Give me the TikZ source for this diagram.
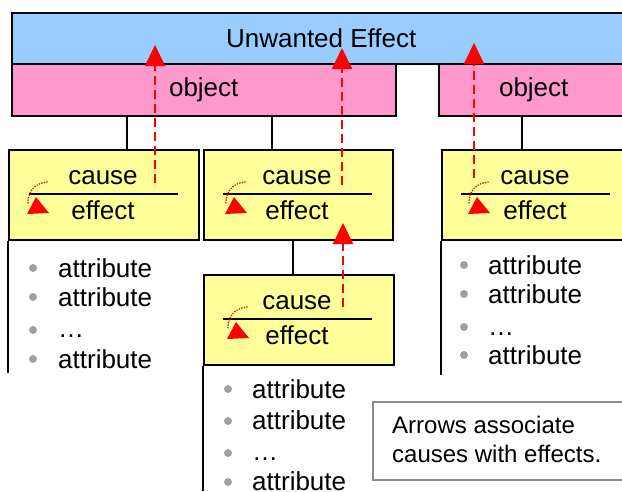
\documentclass[tikz,border=0pt]{standalone}
\usepackage{fontspec}
\setmainfont{Liberation Sans}
\usetikzlibrary{arrows.meta}
\definecolor{ueblue}{HTML}{99CCFF}
\definecolor{objpink}{HTML}{FF99CC}
\definecolor{cyellow}{HTML}{FFFF99}
\definecolor{bulgray}{HTML}{A0A0A0}
\definecolor{notegray}{HTML}{8C8C8C}
\begin{document}
\begin{tikzpicture}[x=1pt,y=-1pt,
  box/.style={draw=black, line width=1.5pt, inner sep=0pt, anchor=north west,
    font=\fontsize{26}{30}\selectfont},
  uebox/.style={box, fill=ueblue},
  objbox/.style={box, fill=objpink},
  cbox/.style={box, fill=cyellow, minimum width=190pt, minimum height=90pt},
  txt/.style={inner sep=0pt, anchor=base, font=\fontsize{26}{30}\selectfont},
  attr/.style={inner sep=0pt, anchor=base west, font=\fontsize{26}{30}\selectfont},
  conn/.style={draw=black, line width=1.5pt},
  divline/.style={draw=black, line width=2pt},
  redarrow/.style={draw=red, line width=2pt, dash pattern=on 9pt off 5pt,
    -{Triangle[width=20pt,length=21pt]}},
  bul/.style={fill=bulgray},
  cmark/.pic={
    \draw[red, line width=1.8pt, line cap=round, dash pattern=on 0pt off 2.6pt]
      (39,33) .. controls (28,34) and (20,41) .. (20,54);
    \fill[red] (28,48) -- (19,65) -- (41,64) -- cycle;
  }]
\useasboundingbox (0,0) rectangle (622,491);
\clip (0,0) rectangle (622,491);

% top boxes
\node[uebox, minimum width=619pt, minimum height=51pt] (ue) at (11,12) {Unwanted Effect};
\node[objbox, minimum width=384pt, minimum height=52pt] (o1) at (11,63) {\raisebox{-2pt}{object}};
\node[objbox, minimum width=190pt, minimum height=52pt] (o2) at (438,63) {\raisebox{-2pt}{object}};

% cause/effect boxes
\node[cbox] (b1) at (8,149) {};
\node[cbox, minimum width=189pt] (b2) at (203,149) {};
\node[cbox] (b3) at (441,149) {};
\node[cbox] (b4) at (203,274) {};

% connectors
\draw[conn] (o1.south -| 127,0) -- (b1.north -| 127,0);
\draw[conn] (o1.south -| 272,0) -- (b2.north -| 272,0);
\draw[conn] (o2.south -| 522,0) -- (b3.north -| 522,0);
\draw[conn] (b2.south -| 293,0) -- (b4.north -| 293,0);

% texts and dividers
\node[txt] (c1) at (103,184) {cause};
\node[txt] (e1) at (103,219) {effect};
\draw[divline] (29,194) -- (178,194);
\node[txt] (c2) at (297,184) {cause};
\node[txt] (e2) at (297,219) {effect};
\draw[divline] (223,194) -- (372,194);
\node[txt] (c3) at (535,184) {cause};
\node[txt] (e3) at (535,219) {effect};
\draw[divline] (461,194) -- (610,194);
\node[txt] (c4) at (297,309) {cause};
\node[txt] (e4) at (297,344) {effect};
\draw[divline] (223,319) -- (372,319);

% small curved marks
\pic at (8,149) {cmark};
\pic at (206,149) {cmark};
\pic at (449,149) {cmark};
\pic at (208,274) {cmark};

% attribute lists
\draw[conn] (b1.south west) -- (8,373);
\draw[conn] (b3.south west) -- (441,375);
\draw[conn] (b4.south west) -- (203,491);

\fill[bul] (33,268) circle (4); \node[attr] (a11) at (58,277) {attribute};
\fill[bul] (33,297) circle (4); \node[attr] (a12) at (58,306) {attribute};
\fill[bul] (33,330) circle (4); \node[attr] (a13) at (58,337) {…};
\fill[bul] (33,359) circle (4); \node[attr] (a14) at (58,368) {attribute};

\fill[bul] (464,265) circle (4); \node[attr] (a31) at (488,274) {attribute};
\fill[bul] (464,294) circle (4); \node[attr] (a32) at (488,303) {attribute};
\fill[bul] (464,327) circle (4); \node[attr] (a33) at (488,335) {…};
\fill[bul] (464,355) circle (4); \node[attr] (a34) at (488,364) {attribute};

\fill[bul] (228,389) circle (4); \node[attr] (a41) at (252,398) {attribute};
\fill[bul] (228,421) circle (4); \node[attr] (a42) at (252,429) {attribute};
\fill[bul] (228,453) circle (4); \node[attr] (a43) at (252,460) {…};
\fill[bul] (228,482) circle (4); \node[attr] (a44) at (252,490) {attribute};

% note
\node[draw=notegray, line width=1.5pt, fill=white, minimum width=258pt, minimum height=78pt,
  anchor=north west, inner sep=0pt] (note) at (372,401) {};
\node[inner sep=0pt, anchor=north west, align=left, font=\fontsize{24}{29}\selectfont]
  (notetxt) at (392,416) {Arrows associate\\causes with effects.};

% red dashed arrows
\draw[redarrow] (155,183) -- (155,45);
\draw[redarrow] (342,185) -- (342,48);
\draw[redarrow] (474,178) -- (474,43);
\draw[redarrow] (343,307) -- (343,223);
\end{tikzpicture}
\end{document}
